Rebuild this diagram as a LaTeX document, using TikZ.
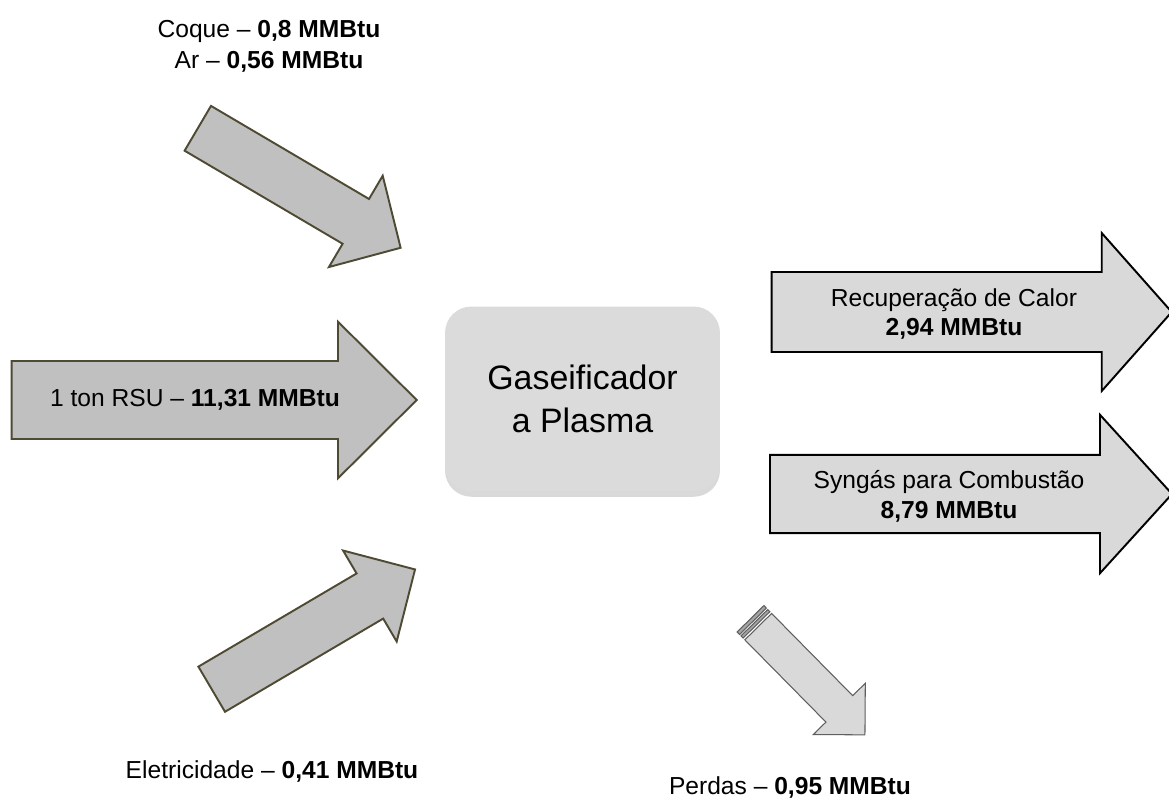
\documentclass[tikz,border=0pt]{standalone}
\usepackage{fontspec}
\setmainfont{Liberation Sans}
\usepackage{xcolor}
\usepackage{tikz}
\usetikzlibrary{calc,shadows}
\definecolor{inFill}{HTML}{C0C0C0}
\definecolor{inLine}{HTML}{4F4A33}
\definecolor{outFill}{HTML}{D9D9D9}
\definecolor{boxFill}{HTML}{DBDBDB}
\definecolor{lossLine}{HTML}{5F5F5F}
\tikzset{
  inArrow/.style={draw=inLine, fill=inFill, line width=1.1pt},
  outArrow/.style={draw=black, fill=outFill, line width=1.1pt},
  lossArrow/.style={draw=lossLine, fill=outFill, line width=0.6pt},
  lossStripe/.style={draw=lossLine, fill=gray!70, line width=0.6pt},
  flowText/.style={text=black, font=\fontsize{14}{17}\selectfont, align=center},
  flowLabel/.style={text=black, font=\fontsize{14}{17.5}\selectfont, align=center},
  reactor/.style={fill=boxFill, rounded corners=15pt, minimum width=5.5cm,
    minimum height=3.7cm, align=center, font=\fontsize{19.3}{24.5}\selectfont,
    drop shadow={opacity=0.3, shadow xshift=0pt, shadow yshift=-3pt}}
}
% block arrow: style, tail, angle, length, shaft half, head half, head length
\newcommand{\blockarrow}[7]{%
  \begin{scope}[shift={#2}, rotate=#3]
    \draw[#1] (0,-#5) -- ({#4-#7},-#5) -- ({#4-#7},-#6) -- (#4,0)
      -- ({#4-#7},#6) -- ({#4-#7},#5) -- (0,#5) -- cycle;
  \end{scope}}

\begin{document}
\begin{tikzpicture}[x=0.02cm, y=-0.02cm]
  \useasboundingbox (0,0) rectangle (1169,798);

  % inputs
  \blockarrow{inArrow}{(197.8,128.3)}{-30.5}{235.4}{26}{53}{52}
  \blockarrow{inArrow}{(11.7,400)}{0}{405}{39}{78.3}{78.7}
  \blockarrow{inArrow}{(211.7,689.2)}{30.5}{236}{26.2}{52.8}{52.4}

  % outputs
  \blockarrow{outArrow}{(771.7,312)}{0}{400}{40}{79}{70}
  \blockarrow{outArrow}{(770,494)}{0}{402}{39.2}{79.2}{72}

  % losses (striped tail)
  \begin{scope}[shift={(750.5,618.8)}, rotate=-45.4]
    \draw[lossStripe] (0,-18.8) rectangle (3.5,18.8);
    \draw[lossStripe] (5.5,-18.8) rectangle (8.5,18.8);
    \draw[lossArrow] (11,-18.8) -- (126.5,-18.8) -- (126.5,-36.5) -- (163,0)
      -- (126.5,36.5) -- (126.5,18.8) -- (11,18.8) -- cycle;
  \end{scope}

  \node[reactor] (gasifier) at (582.5,399) {Gaseificador\\a Plasma};

  \node[flowText] (rsu) at (195,400) {1 ton RSU -- \textbf{11,31 MMBtu}};
  \node[flowText] (heat) at (954,314) {Recuperação de Calor\\\textbf{2,94 MMBtu}};
  \node[flowText] (syngas) at (949,496) {Syngás para Combustão\\\textbf{8,79 MMBtu}};

  \node[flowLabel] (coque) at (269,46) {Coque -- \textbf{0,8 MMBtu}\\Ar -- \textbf{0,56 MMBtu}};
  \node[flowLabel] (elec) at (272,771) {Eletricidade -- \textbf{0,41 MMBtu}};
  \node[flowLabel] (loss) at (790,787) {Perdas -- \textbf{0,95 MMBtu}};
\end{tikzpicture}
\end{document}
